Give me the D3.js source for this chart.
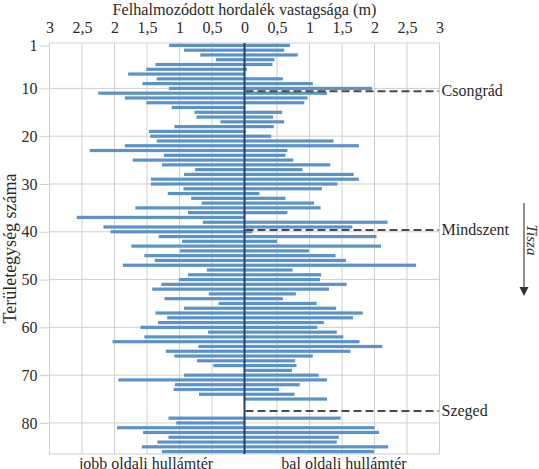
<!DOCTYPE html>
<html><head><meta charset="utf-8">
<script src="https://cdn.jsdelivr.net/npm/d3@7"></script>
<style>
html,body{margin:0;padding:0;background:#fff;}
svg{display:block;}
</style></head>
<body>
<svg id="c" width="539" height="469"></svg>
<script>
// Row numbers (területegység) 1..86
const units = d3.range(1, 87);
// jobb oldali hullámtér (left side), m ; null = no data
const leftValues = [1.16,0.93,0.68,0.44,1.37,1.51,1.79,1.35,1.57,1.16,
  2.25,1.84,1.51,1.12,0.77,0.74,0.37,1.08,1.47,1.45,
  1.35,1.84,2.38,1.24,1.72,1.27,0.76,0.93,1.44,1.44,
  0.94,1.18,0.82,0.66,1.68,0.87,2.58,0.64,2.17,2.06,
  1.32,0.96,1.74,0.99,1.54,1.38,1.87,0.58,0.87,1.01,
  1.28,1.42,0.55,1.23,0.40,0.93,1.37,1.19,1.33,1.60,
  0.56,1.54,2.03,0.71,1.21,1.08,0.73,0.48,0.01,0.93,
  1.94,1.07,1.09,0.70,0.01,null,null,null,1.17,1.05,
  1.96,1.56,1.17,1.34,1.58,1.27];
// bal oldali hullámtér (right side), m
const rightValues = [0.70,0.61,0.82,0.46,0.43,0.04,0.01,0.59,1.05,1.96,
  1.27,0.97,0.92,0.01,0.58,0.44,0.61,0.45,0.02,0.41,
  1.37,1.76,0.66,0.63,0.75,1.32,0.89,1.68,1.76,1.43,
  1.19,0.23,0.63,1.07,1.17,0.66,0.01,2.20,1.66,0.12,
  2.03,0.50,2.10,0.99,1.40,1.56,2.64,0.74,1.18,1.16,
  1.57,1.30,0.79,0.59,1.11,1.41,1.82,1.67,1.22,1.12,
  1.42,1.52,1.77,2.12,1.63,1.05,0.78,0.80,0.73,1.14,
  1.27,0.85,0.53,0.77,1.27,null,null,null,1.48,0.01,
  2.00,2.07,1.45,1.42,2.21,1.99];
const xTicks = [-3,-2.5,-2,-1.5,-1,-0.5,0,0.5,1,1.5,2,2.5,3];
const yTicks = [1,10,20,30,40,50,60,70,80];
const towns = ["Csongrád","Mindszent","Szeged"];
const townUnits = [10.6,39.65,77.5];

const FONT = "Liberation Serif";
const svg = d3.select("#c");
const x = d3.scaleLinear().domain([-3,3]).range([49.5,439.5]);
const y = d3.scaleLinear().domain([0.5,86.5]).range([43,454]);
const barH = 3.2;
const textCol = "#2a2a2a";

// vertical gridlines
svg.append("g").selectAll("line").data(xTicks).join("line")
  .attr("x1", d=>x(d)).attr("x2", d=>x(d))
  .attr("y1", y(0.5)).attr("y2", y(86.5))
  .attr("stroke", "#cfcfcf").attr("stroke-width", 1);
// horizontal gridlines
svg.append("g").selectAll("line").data(yTicks.slice(1)).join("line")
  .attr("x1", x(-3)).attr("x2", x(3))
  .attr("y1", d=>y(d)).attr("y2", d=>y(d))
  .attr("stroke", "#cfcfcf").attr("stroke-width", 1);
// frame
svg.append("rect").attr("x", x(-3)).attr("y", y(0.5))
  .attr("width", x(3)-x(-3)).attr("height", y(86.5)-y(0.5))
  .attr("fill","none").attr("stroke","#cfcfcf").attr("stroke-width",1);

const rows = units.map((u,i)=>({u, l:leftValues[i], r:rightValues[i]}));
const barColor = "#5b92c7";
svg.append("g").selectAll("rect.l").data(rows.filter(d=>d.l!=null)).join("rect")
  .attr("x", d=>x(-d.l)).attr("width", d=>x(0)-x(-d.l))
  .attr("y", d=>y(d.u)-barH/2).attr("height", barH).attr("fill", barColor);
svg.append("g").selectAll("rect.r").data(rows.filter(d=>d.r!=null)).join("rect")
  .attr("x", x(0)).attr("width", d=>x(d.r)-x(0))
  .attr("y", d=>y(d.u)-barH/2).attr("height", barH).attr("fill", barColor);

// zero line
svg.append("line").attr("x1", x(0)).attr("x2", x(0))
  .attr("y1", y(0.5)).attr("y2", y(86.5))
  .attr("stroke", "#22406e").attr("stroke-width", 2);

// town dashed lines
townUnits.forEach((t,i)=>{
  svg.append("line").attr("x1", x(0)+1).attr("x2", x(3)-1)
    .attr("y1", y(t)).attr("y2", y(t))
    .attr("stroke","#4a4a4a").attr("stroke-width",2).attr("stroke-dasharray","8,4");
  svg.append("text").attr("x", x(3)+2).attr("y", y(t)+5)
    .attr("font-family", FONT).attr("font-size", 16).attr("fill", textCol).text(towns[i]);
});

// top axis
const xa = svg.append("g").attr("transform", `translate(0,${y(0.5)})`)
  .call(d3.axisTop(x).tickValues(xTicks).tickSize(0).tickPadding(10)
    .tickFormat(d=>String(Math.abs(d)).replace(".", ",")));
xa.attr("font-family", FONT);
xa.select(".domain").remove();
xa.selectAll("text").attr("font-family", FONT).attr("font-size", 16).attr("fill", textCol);

// left axis
const ya = svg.append("g").attr("transform", `translate(${x(-3)},0)`)
  .call(d3.axisLeft(y).tickValues(yTicks).tickSize(10).tickPadding(2));
ya.attr("font-family", FONT);
ya.select(".domain").remove();
ya.selectAll("line").attr("stroke", "#cfcfcf");
ya.selectAll("text").attr("font-family", FONT).attr("font-size", 16).attr("fill", textCol);

// titles
svg.append("text").attr("x", x(0)).attr("y", 15).attr("text-anchor","middle")
  .attr("font-family", FONT).attr("font-size", 16.2).attr("fill", textCol)
  .text("Felhalmozódott hordalék vastagsága (m)");
svg.append("text").attr("transform", `translate(16,${y(43.5)}) rotate(-90)`)
  .attr("text-anchor","middle").attr("font-family", FONT).attr("font-size", 18).attr("fill", textCol)
  .text("Területegység száma");
svg.append("text").attr("x", 146).attr("y", 469).attr("text-anchor","middle")
  .attr("font-family", FONT).attr("font-size", 16).attr("fill", textCol).text("jobb oldali hullámtér");
svg.append("text").attr("x", 344).attr("y", 469).attr("text-anchor","middle")
  .attr("font-family", FONT).attr("font-size", 16).attr("fill", textCol).text("bal oldali hullámtér");

// Tisza arrow
svg.append("line").attr("x1", 524).attr("x2", 524).attr("y1", 203).attr("y2", 288)
  .attr("stroke", "#6a6a6a").attr("stroke-width", 1.5);
svg.append("path").attr("d", "M519.5,287 L528.5,287 L524,296 Z").attr("fill", "#333");
svg.append("text").attr("transform", "translate(527,240) rotate(90)")
  .attr("text-anchor","middle").attr("font-family", FONT).attr("font-size", 15).attr("font-style","italic")
  .attr("fill", textCol).text("Tisza");
</script>
</body></html>
